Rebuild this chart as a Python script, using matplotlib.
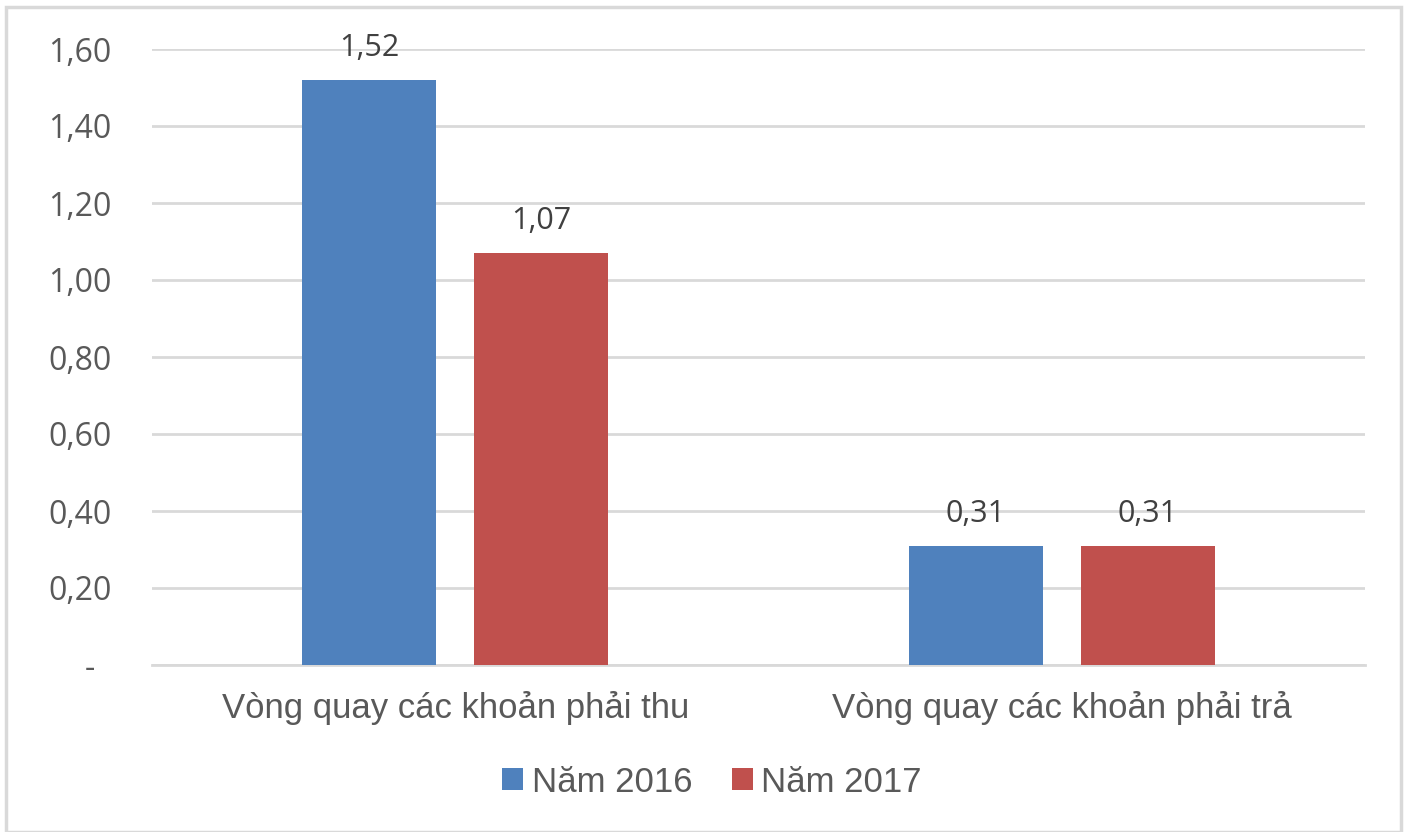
import matplotlib
matplotlib.use("Agg")
import matplotlib.pyplot as plt
from matplotlib.patches import Rectangle

categories = ["Vòng quay các khoản phải thu", "Vòng quay các khoản phải trả"]
series_names = ["Năm 2016", "Năm 2017"]
values_2016 = [1.52, 0.31]
values_2017 = [1.07, 0.31]
labels_2016 = ["1,52", "0,31"]
labels_2017 = ["1,07", "0,31"]
yticks = [0, 0.2, 0.4, 0.6, 0.8, 1.0, 1.2, 1.4, 1.6]
ytick_labels = ["-  ", "0,20", "0,40", "0,60", "0,80", "1,00", "1,20", "1,40", "1,60"]

colors = ["#4F81BD", "#C0504D"]
txt = "#595959"
W, H = 1405, 832
fig = plt.figure(figsize=(W / 100, H / 100), dpi=100)
fig.patches.append(Rectangle((6 / W, 0), (1401 - 6) / W, 1 - 7 / H, transform=fig.transFigure,
                             fill=False, edgecolor="#D9D9D9", linewidth=2.5))
ax = fig.add_axes([152 / W, 1 - 665 / H, (1365 - 152) / W, (665 - 49) / H])

x = [0, 1]
bw = 0.221
off = 0.1418
b1 = ax.bar([i - off for i in x], values_2016, bw, color=colors[0], label=series_names[0], zorder=3)
b2 = ax.bar([i + off for i in x], values_2017, bw, color=colors[1], label=series_names[1], zorder=3)
for bars, labs in ((b1, labels_2016), (b2, labels_2017)):
    for r, l in zip(bars, labs):
        ax.annotate(l, (r.get_x() + r.get_width() / 2, r.get_height()), xytext=(0, 12),
                    textcoords="offset points", ha="center", va="bottom",
                    fontsize=22, color="#404040", family="Open Sans")

ax.set_xlim(-0.5, 1.5)
ax.set_ylim(0, 1.6)
ax.set_yticks(yticks)
ax.set_yticklabels(ytick_labels, family="Open Sans", fontsize=23, color=txt)
ax.tick_params(axis="both", length=0)
ax.tick_params(axis="y", pad=29)
ax.set_xticks(x)
ax.set_xticklabels(categories, family="Liberation Sans", fontsize=25, color=txt)
ax.tick_params(axis="x", pad=19)
ax.grid(axis="y", color="#D9D9D9", linewidth=2, zorder=0)
for s in ["top", "right", "left"]:
    ax.spines[s].set_visible(False)
ax.spines["bottom"].set_color("#D9D9D9")
ax.spines["bottom"].set_linewidth(2)

leg = fig.legend(handles=[b1, b2], labels=series_names, loc="center", bbox_to_anchor=(712 / W, 1 - 782 / H),
                 ncol=2, frameon=False, prop={"family": "Liberation Sans", "size": 25},
                 handlelength=0.6, handleheight=0.6, handletextpad=0.25, columnspacing=1.15)
for t in leg.get_texts():
    t.set_color(txt)

fig.savefig("out.png", dpi=100, facecolor="white")
